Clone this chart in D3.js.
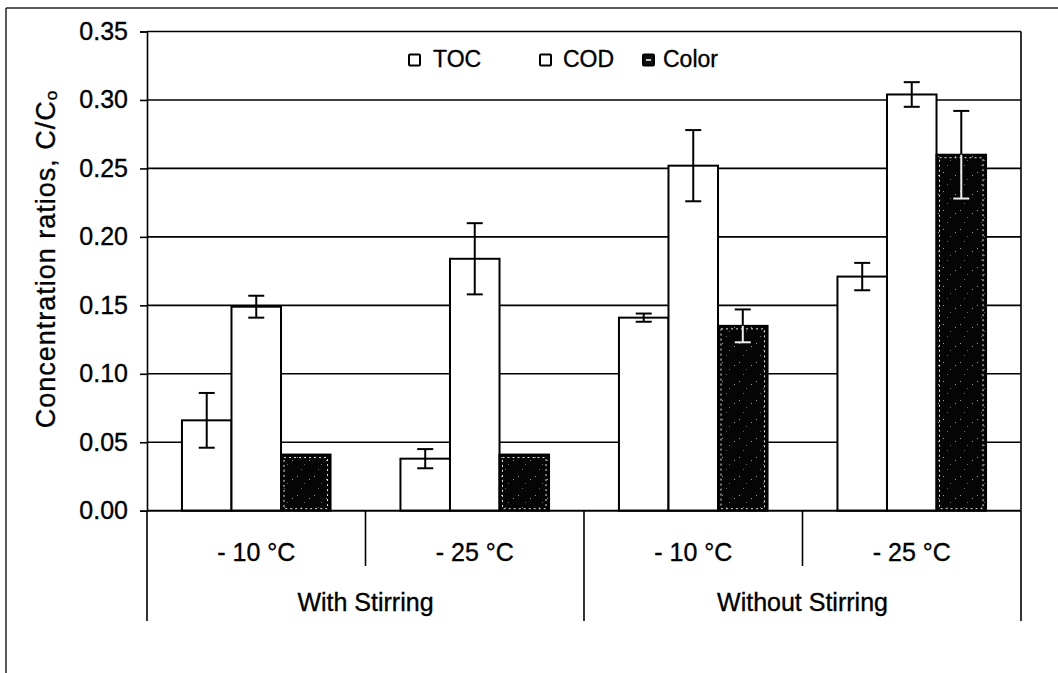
<!DOCTYPE html>
<html>
<head>
<meta charset="utf-8">
<script src="https://cdn.jsdelivr.net/npm/d3@7"></script>
<style>
  html, body { margin: 0; padding: 0; background: #fff; }
  svg { display: block; }
  text { font-family: "Liberation Sans", Arial, sans-serif; fill: #000; stroke: #000; stroke-width: 0.35px; }
</style>
</head>
<body>
<svg id="chart" width="1058" height="673"></svg>
<script>
// Temperature categories, grouped by stirring condition
const categories = ["- 10 \u00B0C", "- 25 \u00B0C", "- 10 \u00B0C", "- 25 \u00B0C"];
const groups = ["With Stirring", "Without Stirring"];
const seriesNames = ["TOC", "COD", "Color"];

// Concentration ratios C/Co and their error bar half-widths
const tocValues = [0.066, 0.038, 0.141, 0.171];
const tocErrors = [0.020, 0.007, 0.003, 0.010];
const codValues = [0.149, 0.184, 0.252, 0.304];
const codErrors = [0.008, 0.026, 0.026, 0.009];
const colorValues = [0.041, 0.041, 0.135, 0.260];
const colorErrors = [null, null, 0.012, 0.032];

const yTicks = [0, 0.05, 0.10, 0.15, 0.20, 0.25, 0.30, 0.35];

const seriesValues = { TOC: tocValues, COD: codValues, Color: colorValues };
const seriesErrors = { TOC: tocErrors, COD: codErrors, Color: colorErrors };

const svg = d3.select("#chart");
const plotLeft = 147, plotRight = 1021, plotTop = 31.5, plotBottom = 510.7;

const y = d3.scaleLinear().domain([0, 0.35]).range([plotBottom, plotTop]);
const x0 = d3.scaleBand().domain(d3.range(categories.length)).range([plotLeft, plotRight]);
const bw = x0.bandwidth();
const x1 = d3.scaleBand().domain(seriesNames).range([bw * 0.16, bw * 0.84]);

// Grainy dark fill used for the Color series
const defs = svg.append("defs");
const pat = defs.append("pattern")
  .attr("id", "grain").attr("patternUnits", "userSpaceOnUse")
  .attr("width", 17).attr("height", 19);
pat.append("rect").attr("width", 17).attr("height", 19).attr("fill", "#050505");
[[3, 4], [12, 13], [8, 1], [15, 8]].forEach(([px, py], i) => {
  pat.append("rect").attr("x", px).attr("y", py)
    .attr("width", 1).attr("height", 1)
    .attr("fill", i % 2 ? "#666" : "#999");
});

// Outer frame (top and left edges)
svg.append("line").attr("x1", 6).attr("x2", 1058).attr("y1", 8).attr("y2", 8)
  .attr("stroke", "#222").attr("stroke-width", 1.5);
svg.append("line").attr("x1", 6).attr("x2", 6).attr("y1", 8).attr("y2", 673)
  .attr("stroke", "#222").attr("stroke-width", 1.5);

// Horizontal gridlines
svg.append("g").selectAll("line")
  .data(yTicks.filter(d => d > 0))
  .join("line")
  .attr("x1", plotLeft).attr("x2", plotRight)
  .attr("y1", d => y(d)).attr("y2", d => y(d))
  .attr("stroke", "#000").attr("stroke-width", 1.6);

// Right border of plot area
svg.append("line").attr("x1", plotRight).attr("x2", plotRight).attr("y1", plotTop).attr("y2", plotBottom)
  .attr("stroke", "#000").attr("stroke-width", 1.6);

// Y axis
const yAxis = svg.append("g")
  .attr("transform", `translate(${plotLeft},0)`)
  .call(d3.axisLeft(y).tickValues(yTicks).tickFormat(d3.format(".2f")).tickSize(7).tickPadding(12));
yAxis.select(".domain").attr("stroke", "#000").attr("stroke-width", 1.6);
yAxis.selectAll(".tick line").attr("stroke", "#000").attr("stroke-width", 1.6);
yAxis.selectAll(".tick text")
  .attr("font-size", 25).attr("font-family", "Liberation Sans, Arial, sans-serif")
  .attr("fill", "#000");

// Bars
const barG = svg.append("g");
categories.forEach((c, ci) => {
  seriesNames.forEach(s => {
    const v = seriesValues[s][ci];
    const bx = x0(ci) + x1(s);
    const bwid = x1.bandwidth();
    barG.append("rect")
      .attr("x", bx).attr("y", y(v))
      .attr("width", bwid).attr("height", y(0) - y(v))
      .attr("fill", s === "Color" ? "url(#grain)" : "#fff")
      .attr("stroke", "#000").attr("stroke-width", 2);
    if (s === "Color") {
      barG.append("rect")
        .attr("x", bx + 3).attr("y", y(v) + 3)
        .attr("width", bwid - 6).attr("height", Math.max(0, y(0) - y(v) - 5))
        .attr("fill", "none").attr("stroke", "#e8e8e8")
        .attr("stroke-width", 1).attr("stroke-dasharray", "2,3");
    }
  });
});

// Error bars
const errG = svg.append("g");
categories.forEach((c, ci) => {
  seriesNames.forEach(s => {
    const e = seriesErrors[s][ci];
    if (e == null) return;
    const v = seriesValues[s][ci];
    const cx = x0(ci) + x1(s) + x1.bandwidth() / 2;
    const hi = y(v + e), lo = y(v - e), mid = y(v);
    const cap = 8;
    errG.append("line").attr("x1", cx).attr("x2", cx).attr("y1", hi).attr("y2", mid)
      .attr("stroke", "#000").attr("stroke-width", 2);
    errG.append("line").attr("x1", cx - cap).attr("x2", cx + cap).attr("y1", hi).attr("y2", hi)
      .attr("stroke", "#000").attr("stroke-width", 2);
    const lowColor = s === "Color" ? "#eee" : "#000";
    errG.append("line").attr("x1", cx).attr("x2", cx).attr("y1", mid).attr("y2", lo)
      .attr("stroke", lowColor).attr("stroke-width", 2);
    errG.append("line").attr("x1", cx - cap).attr("x2", cx + cap).attr("y1", lo).attr("y2", lo)
      .attr("stroke", lowColor).attr("stroke-width", 2);
  });
});

// Category axis: baseline, separators and labels
svg.append("line").attr("x1", plotLeft).attr("x2", plotRight).attr("y1", y(0)).attr("y2", y(0))
  .attr("stroke", "#000").attr("stroke-width", 2);

const catEdges = d3.range(categories.length + 1).map(i => plotLeft + i * bw);
svg.append("g").selectAll("line")
  .data(catEdges)
  .join("line")
  .attr("x1", d => d).attr("x2", d => d)
  .attr("y1", y(0))
  .attr("y2", (d, i) => (i % 2 === 0 ? 621 : 566))
  .attr("stroke", "#000").attr("stroke-width", 1.6);

svg.append("g").selectAll("text")
  .data(categories)
  .join("text")
  .attr("x", (d, i) => x0(i) + bw / 2)
  .attr("y", 561)
  .attr("text-anchor", "middle")
  .attr("font-size", 25)
  .text(d => d);

svg.append("g").selectAll("text")
  .data(groups)
  .join("text")
  .attr("x", (d, i) => plotLeft + (i * 2 + 1) * bw)
  .attr("y", 611)
  .attr("text-anchor", "middle")
  .attr("font-size", 25)
  .text(d => d);

// Y axis title
const title = svg.append("text")
  .attr("transform", "translate(55,259) rotate(-90)")
  .attr("text-anchor", "middle")
  .attr("font-size", 27)
  .attr("letter-spacing", 1);
title.append("tspan").text("Concentration ratios,  C/C");
title.append("tspan").attr("font-size", 17).attr("dy", 2).text("o");

// Legend
const legendItems = [
  { name: "TOC", sx: 409, tx: 433 },
  { name: "COD", sx: 540, tx: 563 },
  { name: "Color", sx: 643, tx: 663 }
];
const lg = svg.append("g");
legendItems.forEach(it => {
  lg.append("rect").attr("x", it.sx).attr("y", 54.5).attr("width", 11).attr("height", 11)
    .attr("fill", it.name === "Color" ? "#111" : "#fff")
    .attr("stroke", "#000").attr("stroke-width", 2).attr("rx", 1);
  if (it.name === "Color") {
    lg.append("line").attr("x1", it.sx + 3).attr("x2", it.sx + 8)
      .attr("y1", 60).attr("y2", 60).attr("stroke", "#fff").attr("stroke-width", 1.5);
  }
  lg.append("text").attr("x", it.tx).attr("y", 66.5).attr("font-size", 23).text(it.name);
});
</script>
</body>
</html>
